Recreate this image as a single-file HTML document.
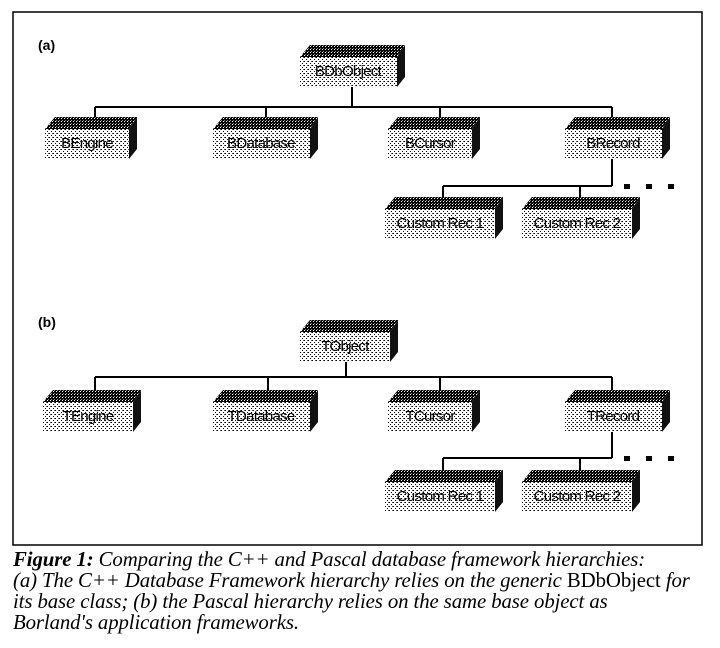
<!DOCTYPE html>
<html><head><meta charset="utf-8"><style>
html,body{margin:0;padding:0;background:#fff;width:720px;height:648px;overflow:hidden}
svg{position:absolute;left:0;top:0}
.cap{position:absolute;left:13px;top:549px;font-family:"Liberation Serif",serif;font-style:italic;font-size:20.8px;line-height:21px;color:#000;white-space:nowrap;letter-spacing:-0.1px}
</style></head><body>
<svg width="720" height="648" xmlns="http://www.w3.org/2000/svg">
<defs>
<pattern id="lt" width="4" height="4" patternUnits="userSpaceOnUse"><rect width="4" height="4" fill="#fff"/><rect x="0" y="0" width="1" height="1" fill="#000"/><rect x="2" y="2" width="1" height="1" fill="#000"/><rect x="3" y="0" width="1" height="1" fill="#555"/></pattern>
<pattern id="dk" width="3" height="3" patternUnits="userSpaceOnUse"><rect width="3" height="3" fill="#000"/><rect x="1" y="1" width="1" height="1" fill="#fff"/><rect x="2" y="0" width="1" height="1" fill="#888"/></pattern>
<symbol id="b105" overflow="visible"><polygon points="10,0 105,0 97,12 0,12" fill="url(#dk)"/><rect x="0" y="12" width="97" height="30" fill="url(#lt)"/><polygon points="97,12 105,0 105,32 97,42" fill="#111"/></symbol>
<symbol id="b92" overflow="visible"><polygon points="10,0 92,0 84,12 0,12" fill="url(#dk)"/><rect x="0" y="12" width="84" height="30" fill="url(#lt)"/><polygon points="84,12 92,0 92,32 84,42" fill="#111"/></symbol>
<symbol id="b98" overflow="visible"><polygon points="10,0 98,0 90,12 0,12" fill="url(#dk)"/><rect x="0" y="12" width="90" height="30" fill="url(#lt)"/><polygon points="90,12 98,0 98,32 90,42" fill="#111"/></symbol>
<symbol id="b118" overflow="visible"><polygon points="10,0 118,0 110,12 0,12" fill="url(#dk)"/><rect x="0" y="12" width="110" height="30" fill="url(#lt)"/><polygon points="110,12 118,0 118,32 110,42" fill="#111"/></symbol>
</defs>
<rect x="13" y="12" width="689" height="533" fill="none" stroke="#000" stroke-width="1.5"/>
<g font-family="Liberation Sans,sans-serif" font-weight="bold" font-size="14">
<text x="38" y="50">(a)</text><text x="38" y="327">(b)</text>
</g>
<g stroke="#000" stroke-width="2" fill="none">
<path d="M352 87V107M95 107H612M95 107V117M266 107V117M440 107V117M612 107V117M612 159V186M443 186H612M443 186V197M580 186V197"/>
<path d="M346 362V377M95 377H612M95 377V390M268 377V390M440 377V390M612 377V390M612 432V458M443 458H612M443 458V470M580 458V470"/>
</g>
<g fill="#000"><rect x="624" y="184" width="6" height="5"/><rect x="646" y="184" width="6" height="5"/><rect x="668" y="184" width="6" height="5"/>
<rect x="624" y="456" width="6" height="5"/><rect x="646" y="456" width="6" height="5"/><rect x="668" y="456" width="6" height="5"/></g>
<use href="#b105" x="300" y="45"/>
<use href="#b92" x="45" y="117"/>
<use href="#b105" x="213" y="117"/>
<use href="#b92" x="388" y="117"/>
<use href="#b105" x="565" y="117"/>
<use href="#b118" x="385" y="197"/>
<use href="#b118" x="522" y="197"/>
<use href="#b98" x="300" y="320"/>
<use href="#b98" x="43" y="390"/>
<use href="#b105" x="213" y="390"/>
<use href="#b92" x="388" y="390"/>
<use href="#b105" x="565" y="390"/>
<use href="#b118" x="385" y="470"/>
<use href="#b118" x="522" y="470"/>
<g font-family="Liberation Sans,sans-serif" font-size="15" text-anchor="middle" letter-spacing="-0.7" fill="#000">
<text x="348" y="76">BDbObject</text>
<text x="87" y="148">BEngine</text>
<text x="261" y="148">BDatabase</text>
<text x="430" y="148">BCursor</text>
<text x="613" y="148">BRecord</text>
<text x="440" y="228">Custom Rec 1</text>
<text x="577" y="228">Custom Rec 2</text>
<text x="345" y="351">TObject</text>
<text x="88" y="421">TEngine</text>
<text x="261" y="421">TDatabase</text>
<text x="430" y="421">TCursor</text>
<text x="613" y="421">TRecord</text>
<text x="440" y="501">Custom Rec 1</text>
<text x="577" y="501">Custom Rec 2</text>
</g>
</svg>
<div class="cap"><b>Figure 1:</b> Comparing the C++ and Pascal database framework hierarchies:<br>(a) The C++ Database Framework hierarchy relies on the generic <span style="font-style:normal">BDbObject</span> for<br>its base class; (b) the Pascal hierarchy relies on the same base object as<br>Borland's application frameworks.</div>
</body></html>
